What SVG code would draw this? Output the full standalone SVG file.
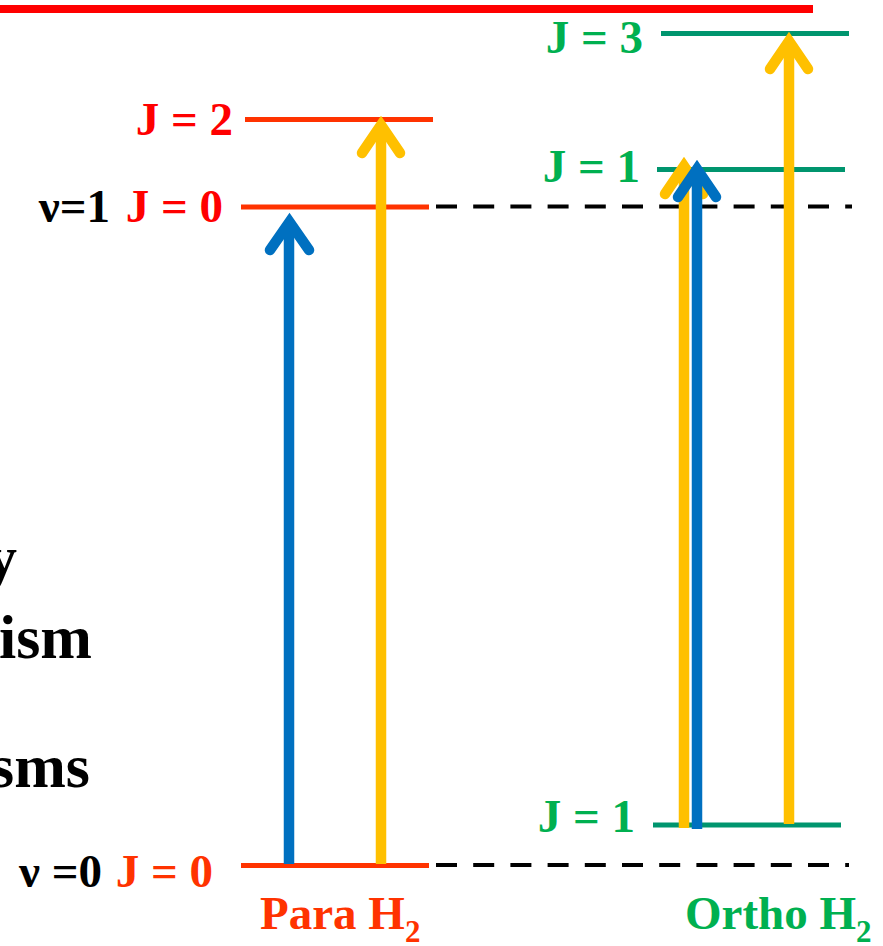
<svg xmlns="http://www.w3.org/2000/svg" width="883" height="946" viewBox="0 0 883 946">
<defs>
<style>
.t{font-family:"Liberation Serif","Times New Roman",serif;font-weight:bold;font-size:47px}
.blk{fill:#000}
.red{fill:#FF0000}
.ora{fill:#FF3300}
.grn{fill:#00B050}
.para{stroke:#FF3300;stroke-width:5;fill:none}
.orth{stroke:#00956E;stroke-width:5;fill:none}
.dash{stroke:#000;stroke-width:4;stroke-dasharray:21 16.2;fill:none}
.shaft{stroke-width:10.5;fill:none;stroke-linecap:butt}
.head{stroke-width:10.5;fill:none;stroke-linecap:round;stroke-linejoin:miter}
.blue{stroke:#0070C0}
.yel{stroke:#FFC000}
</style>
</defs>
<rect x="0" y="5" width="813" height="8" fill="#FF0000"/>
<g id="side-text" class="t blk" style="font-size:62px" text-anchor="end">
<text x="17" y="578">y</text>
<text x="92" y="658">ism</text>
<text x="90" y="787">sms</text>
</g>
<g id="para-v1-J2">
<line class="para" x1="245" y1="119.5" x2="433" y2="119.5"/>
<text class="t red" x="233" y="135" text-anchor="end">J = 2</text>
</g>
<g id="para-v1-J0">
<line class="para" x1="241" y1="207" x2="429" y2="207"/>
<text class="t blk" x="110" y="221.5" text-anchor="end">ν=1</text>
<text class="t red" x="223" y="221.5" text-anchor="end">J = 0</text>
</g>
<g id="para-v0-J0">
<line class="para" x1="241" y1="865.5" x2="429" y2="865.5"/>
<text class="t blk" x="102" y="887" text-anchor="end">ν =0</text>
<text class="t ora" x="213" y="887" text-anchor="end">J = 0</text>
</g>
<g id="ortho-v1-J3">
<line class="orth" x1="661" y1="33.5" x2="849" y2="33.5"/>
<text class="t grn" x="643" y="53" text-anchor="end">J = 3</text>
</g>
<g id="ortho-v1-J1">
<line class="orth" x1="657" y1="169.5" x2="845" y2="169.5"/>
<text class="t grn" x="640" y="181.5" text-anchor="end">J = 1</text>
</g>
<g id="ortho-v0-J1">
<line class="orth" x1="653" y1="825" x2="841" y2="825"/>
<text class="t grn" x="635" y="831.5" text-anchor="end">J = 1</text>
</g>
<g id="v1-baseline">
<line class="dash" x1="436" y1="206.5" x2="852" y2="206.5"/>
</g>
<g id="v0-baseline">
<line class="dash" x1="436" y1="865" x2="849" y2="865"/>
</g>
<g id="connectors">
<line class="shaft blue" x1="289" y1="864" x2="289" y2="222"/>
<polyline class="head blue" points="270,250 289.5,222 309,250"/>
<line class="shaft yel" x1="381" y1="864" x2="381" y2="126"/>
<polyline class="head yel" points="362,153 381,125 400,153"/>
<line class="shaft yel" x1="684" y1="828" x2="684" y2="167"/>
<polyline class="head yel" points="665,194 684,166 703,194"/>
<line class="shaft blue" x1="697" y1="829" x2="697" y2="170"/>
<polyline class="head blue" points="678,197 697,169 716,197"/>
<line class="shaft yel" x1="789" y1="824" x2="789" y2="42"/>
<polyline class="head yel" points="770,69 789,41 808,69"/>
</g>
<g id="label-para">
<text class="t ora" x="260" y="929">Para H<tspan dy="13" style="font-size:31px">2</tspan></text>
</g>
<g id="label-ortho">
<text class="t grn" x="685" y="929">Ortho H<tspan dy="13" style="font-size:31px">2</tspan></text>
</g>
</svg>
